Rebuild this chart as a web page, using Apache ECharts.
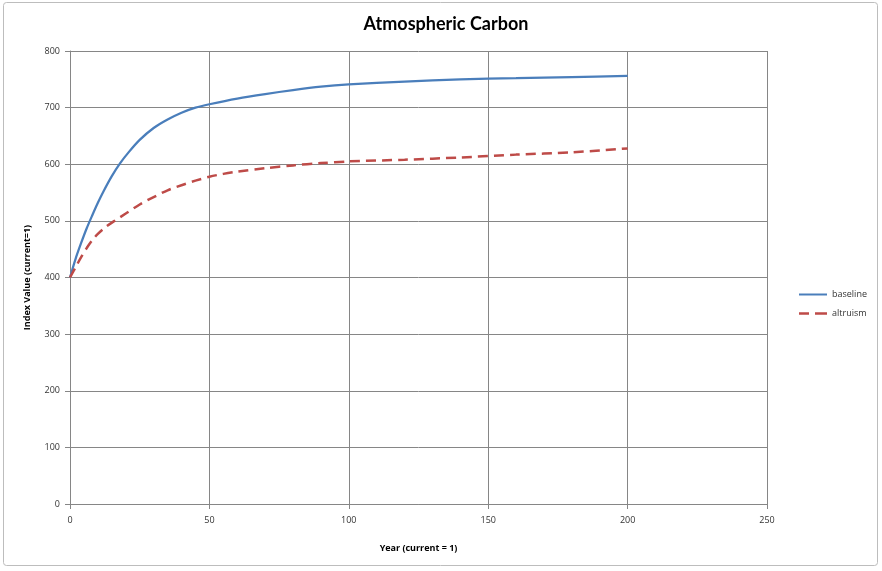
<!DOCTYPE html>
<html>
<head>
<meta charset="utf-8">
<script src="https://cdn.jsdelivr.net/npm/echarts@6/dist/echarts.min.js"></script>
<style>
html,body{margin:0;padding:0;background:#fff;}
#main{width:882px;height:571px;}
</style>
</head>
<body>
<div id="main"></div>
<script>
const titleText = "Atmospheric Carbon";
const xName = "Year (current = 1)";
const yName = "Index Value (current=1)";
const seriesNames = ["baseline", "altruism"];

const baselineYears = [0, 2, 4, 6, 8, 10, 12, 15, 18, 21, 25, 30, 35, 40, 45, 50, 60, 70, 80, 90, 100, 120, 140, 160, 180, 200];
const baselineValues = [400, 433, 461, 487, 510, 532, 552, 579, 602, 621, 643, 664, 679, 691, 700, 706, 716, 724, 731, 737, 741, 746, 750, 752, 754, 756];

const altruismYears = [0, 2, 4, 6, 8, 10, 13, 16, 20, 25, 30, 35, 40, 45, 50, 55, 60, 70, 80, 90, 100, 120, 140, 160, 180, 200];
const altruismValues = [400, 418, 436, 452, 466, 477, 490, 500, 513, 529, 542, 554, 563, 571, 578, 583, 587, 593, 598, 602, 605, 608, 612, 617, 621, 628];

const xTicks = {min: 0, max: 250, interval: 50};
const yTicks = {min: 0, max: 800, interval: 100};

const pairs = (xs, ys) => xs.map((x, i) => [x, ys[i]]);

const chart = echarts.init(document.getElementById('main'));
const labelFont = "'Open Sans', 'Liberation Sans', sans-serif";
chart.setOption({
  animation: false,
  backgroundColor: '#ffffff',
  graphic: [{
    type: 'rect',
    shape: {x: 3.5, y: 2.5, width: 874, height: 563, r: 3},
    style: {fill: 'none', stroke: '#bdbdbd', lineWidth: 1}
  }],
  title: {
    text: titleText,
    left: 441, top: 10, textAlign: 'center',
    textStyle: {fontFamily: "Lato, 'Open Sans', sans-serif", fontWeight: 'bold', fontSize: 18, color: '#000'}
  },
  legend: {
    orient: 'vertical',
    left: 794, top: 285,
    itemWidth: 28, itemHeight: 10, itemGap: 10,
    textStyle: {fontFamily: labelFont, fontSize: 9, color: '#333'},
    data: [
      {name: seriesNames[0], icon: 'path://M0,4 L28,4 L28,6 L0,6 Z'},
      {name: seriesNames[1], icon: 'path://M0,4 L10,4 L10,6.5 L0,6.5 Z M16,4 L28,4 L28,6.5 L16,6.5 Z'}
    ]
  },
  grid: {left: 70, right: 115, top: 51, bottom: 67, containLabel: false},
  xAxis: {
    type: 'value', min: xTicks.min, max: xTicks.max, interval: xTicks.interval,
    name: xName, nameLocation: 'middle', nameGap: 40,
    nameTextStyle: {fontFamily: labelFont, fontWeight: 'bold', fontSize: 9, color: '#000'},
    axisLine: {show: true, lineStyle: {color: '#868686'}},
    axisTick: {show: true, length: 5, lineStyle: {color: '#868686'}},
    axisLabel: {margin: 12, fontFamily: labelFont, fontSize: 9, color: '#333'},
    splitLine: {show: true, lineStyle: {color: '#868686', width: 1}}
  },
  yAxis: {
    type: 'value', min: yTicks.min, max: yTicks.max, interval: yTicks.interval,
    name: yName, nameLocation: 'middle', nameGap: 38, nameRotate: 90,
    nameTextStyle: {fontFamily: labelFont, fontWeight: 'bold', fontSize: 9, color: '#000'},
    axisLine: {show: true, lineStyle: {color: '#868686'}},
    axisTick: {show: true, length: 5, lineStyle: {color: '#868686'}},
    axisLabel: {margin: 10, fontFamily: labelFont, fontSize: 9, color: '#333'},
    splitLine: {show: true, lineStyle: {color: '#868686', width: 1}}
  },
  series: [
    {
      name: seriesNames[0], type: 'line', smooth: 0.3, showSymbol: false, symbol: 'none',
      data: pairs(baselineYears, baselineValues),
      itemStyle: {color: '#4a7ebb'},
      lineStyle: {color: '#4a7ebb', width: 2.25}
    },
    {
      name: seriesNames[1], type: 'line', smooth: 0.3, showSymbol: false, symbol: 'none',
      data: pairs(altruismYears, altruismValues),
      itemStyle: {color: '#be4b48'},
      lineStyle: {color: '#be4b48', width: 2.5, type: [10, 6]}
    }
  ]
});
</script>
</body>
</html>
